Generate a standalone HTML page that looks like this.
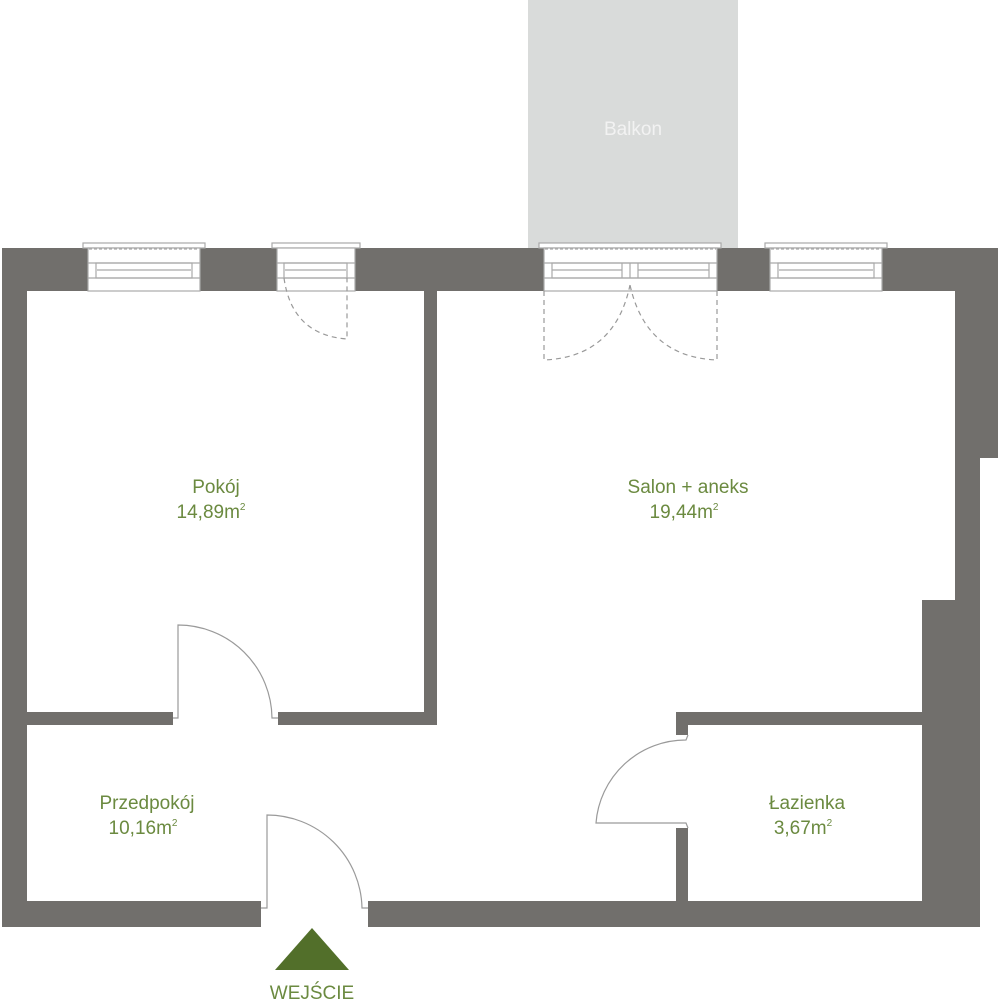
<!DOCTYPE html>
<html><head><meta charset="utf-8"><style>
html,body{margin:0;padding:0;background:#fff;width:1000px;height:1000px;overflow:hidden}
svg{display:block}
text{font-family:"Liberation Sans",sans-serif;fill:#6b8a40}
</style></head><body>
<svg width="1000" height="1000" viewBox="0 0 1000 1000" xmlns="http://www.w3.org/2000/svg">
<rect x="528" y="0" width="210" height="248" fill="#d9dbda"/>
<text x="633" y="135" font-size="19" text-anchor="middle" style="fill:#f2f2f2">Balkon</text>
<g fill="#716f6c">
<!-- outer walls -->
<rect x="2" y="248" width="996" height="43"/>
<rect x="2" y="248" width="25" height="679"/>
<rect x="955" y="248" width="43" height="210"/>
<rect x="955" y="248" width="25" height="352"/>
<rect x="922" y="600" width="58" height="327"/>
<rect x="2" y="901" width="259" height="26"/>
<rect x="368" y="901" width="612" height="26"/>
<!-- interior -->
<rect x="424" y="291" width="13" height="434"/>
<rect x="27" y="712" width="146" height="13"/>
<rect x="278" y="712" width="159" height="13"/>
<rect x="676" y="712" width="246" height="13"/>
<rect x="676" y="712" width="12" height="23"/>
<rect x="676" y="828" width="12" height="73"/>
</g>
<!-- windows -->
<g fill="#fff" stroke="#a9a9a9" stroke-width="1.2">
<rect x="83" y="243" width="122" height="5"/>
<rect x="88" y="248" width="112" height="43"/>
<line x1="88" y1="263" x2="200" y2="263"/><line x1="88" y1="278" x2="200" y2="278"/>
<rect x="96" y="263" width="96" height="15" fill="none"/><line x1="97" y1="270" x2="191" y2="270"/>

<rect x="272" y="243" width="88" height="5"/>
<rect x="277" y="248" width="78" height="43"/>
<line x1="277" y1="263" x2="355" y2="263"/><line x1="277" y1="278" x2="355" y2="278"/>
<rect x="284" y="263" width="63" height="15" fill="none"/><line x1="285" y1="270" x2="346" y2="270"/>

<rect x="539" y="243" width="182" height="5"/>
<rect x="544" y="248" width="173" height="43"/>
<line x1="544" y1="263" x2="717" y2="263"/><line x1="544" y1="278" x2="717" y2="278"/>
<rect x="552" y="263" width="157" height="15" fill="none"/>
<line x1="552" y1="270" x2="622" y2="270"/><line x1="638" y1="270" x2="709" y2="270"/>
<line x1="622" y1="263" x2="622" y2="278"/><line x1="630" y1="263" x2="630" y2="278"/><line x1="638" y1="263" x2="638" y2="278"/>

<rect x="765" y="243" width="122" height="5"/>
<rect x="770" y="248" width="112" height="43"/>
<line x1="770" y1="263" x2="882" y2="263"/><line x1="770" y1="278" x2="882" y2="278"/>
<rect x="778" y="263" width="96" height="15" fill="none"/><line x1="779" y1="270" x2="873" y2="270"/>
</g>
<g fill="none" stroke="#aaa" stroke-width="1.2" stroke-dasharray="3,2">
<line x1="89" y1="249" x2="199" y2="249"/>
<line x1="545" y1="249" x2="716" y2="249"/>
<line x1="771" y1="249" x2="881" y2="249"/>
</g>
<!-- dashed door swings -->
<g fill="none" stroke="#999" stroke-width="1.2" stroke-dasharray="5,4">
<path d="M284 278 Q292 335 347 339 L347 278"/>
<path d="M544 291 L544 360 Q615 357 630 285"/>
<path d="M717 291 L717 360 Q646 357 630 285"/>
</g>
<!-- doors -->
<g fill="none" stroke="#9a9a9a" stroke-width="1.2">
<path d="M173 718 L178 718 L178 625 A94 94 0 0 1 272 718 L278 718"/>
<path d="M261 908 L267 908 L267 815 A95 95 0 0 1 362 908 L368 908"/>
<path d="M688 735 L686 740 A90 90 0 0 0 596 823 L686 823 L688 828"/>
</g>
<g font-size="19" text-anchor="middle">
<text x="216" y="493">Pokój</text>
<text x="211" y="518">14,89m<tspan font-size="10" dy="-8">2</tspan></text>
<text x="688" y="493">Salon + aneks</text>
<text x="684" y="518">19,44m<tspan font-size="10" dy="-8">2</tspan></text>
<text x="147" y="809">Przedpokój</text>
<text x="143" y="834">10,16m<tspan font-size="10" dy="-8">2</tspan></text>
<text x="807" y="809">Łazienka</text>
<text x="803" y="834">3,67m<tspan font-size="10" dy="-8">2</tspan></text>
</g>
<polygon points="312,928 349,970 275,970" fill="#526f2a"/>
<text x="312" y="999" font-size="19" text-anchor="middle">WEJŚCIE</text>
</svg>
</body></html>
